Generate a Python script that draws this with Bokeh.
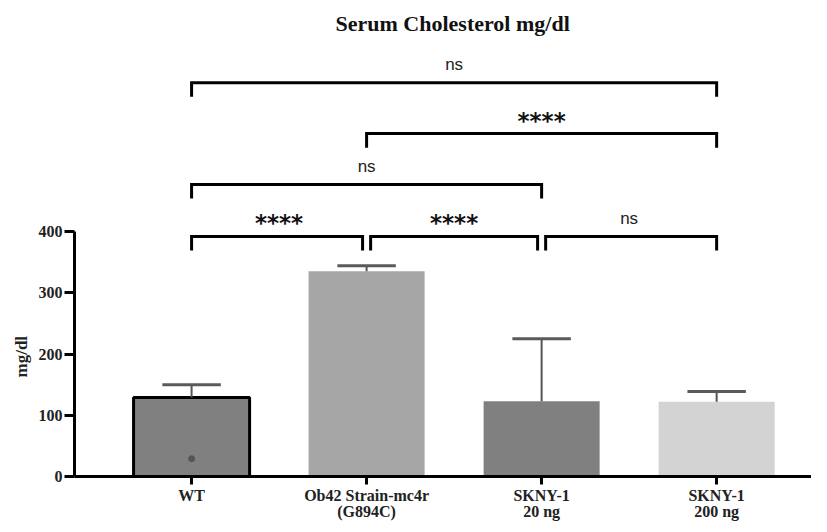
from bokeh.plotting import figure
from bokeh.models import FixedTicker, Range1d, ColumnDataSource, Title
from bokeh.core.properties import value
from bokeh.embed import file_html
from bokeh.resources import INLINE

# ---- data ----
groups = ["WT", "Ob42 Strain-mc4r\n(G894C)", "SKNY-1\n20 ng", "SKNY-1\n200 ng"]
mean_values = [129, 335, 123, 122]
upper_sd = [150, 344, 225, 139]
bar_colors = ["#808080", "#a6a6a6", "#808080", "#d3d3d3"]
wt_points = [29]
y_ticks = [0, 100, 200, 300, 400]

bracket_from = [0, 1, 0, 0, 1, 2]
bracket_to = [3, 3, 2, 1, 2, 3]
bracket_y = [643, 560, 477, 392, 392, 392]
bracket_labels = ["ns", "****", "ns", "****", "****", "ns"]

# ---- styling constants ----
SERIF = "Liberation Serif"
BAR_W = 0.663
CAP_HALF = 0.167
TICK_DROP = 23
GAP = 0.023

xs = list(range(len(groups)))

p = figure(width=811, height=524, output_backend="svg", toolbar_location=None,
           x_range=Range1d(-0.669, 3.542), y_range=Range1d(0, 712),
           min_border_left=74, min_border_right=0, min_border_bottom=48,
           min_border_top=40, title="Serum Cholesterol mg/dl")
p.title.align = "left"
p.title.offset = 261
p.title.text_font = SERIF
p.title.text_font_size = "22px"
p.title.text_font_style = "bold"
p.title.text_color = "#111111"
p.outline_line_color = None
p.xgrid.visible = False
p.ygrid.visible = False
p.background_fill_color = "white"
p.border_fill_color = "white"

# bars
src = ColumnDataSource(dict(x=xs, top=mean_values, color=bar_colors,
                            lc=["black", None, None, None]))
p.vbar(x="x", top="top", bottom=0, width=BAR_W, fill_color="color",
       line_color="lc", line_width=3, source=src)

# error bars (upper only)
p.segment(x0=xs, y0=mean_values, x1=xs, y1=upper_sd, line_color="#555555", line_width=2)
p.segment(x0=[x - CAP_HALF for x in xs], y0=upper_sd,
          x1=[x + CAP_HALF for x in xs], y1=upper_sd,
          line_color="#5a5a5a", line_width=3)

# individual point for WT
p.scatter(x=[0] * len(wt_points), y=wt_points, size=6, color="#555555")

# significance brackets
bx, by, lx, ly, lt = [], [], [], [], []
for i, (a, b, y, lab) in enumerate(zip(bracket_from, bracket_to, bracket_y, bracket_labels)):
    left, right = float(a), float(b)
    for j, (a2, b2, y2) in enumerate(zip(bracket_from, bracket_to, bracket_y)):
        if j != i and y2 == y:
            if b2 == a:
                left += GAP
            if a2 == b:
                right -= GAP
    bx.append([left, left, right, right])
    by.append([y - TICK_DROP, y, y, y - TICK_DROP])
    lx.append((a + b) / 2)
    ly.append(y)
    lt.append(lab)

p.multi_line(xs=bx, ys=by, line_color="black", line_width=3, line_join="miter")

ns_idx = [i for i, t in enumerate(lt) if t == "ns"]
st_idx = [i for i, t in enumerate(lt) if t != "ns"]
p.text(x=[lx[i] for i in ns_idx], y=[ly[i] for i in ns_idx], text=[lt[i] for i in ns_idx],
       text_align="center", text_baseline="alphabetic", y_offset=-18,
       text_font=value("Liberation Sans"), text_font_size="17px", text_color="#222222")
p.text(x=[lx[i] for i in st_idx], y=[ly[i] for i in st_idx], text=[lt[i] for i in st_idx],
       text_align="center", text_baseline="alphabetic", y_offset=-13,
       text_font=value("DejaVu Sans"), text_font_size="23px", text_font_style="bold",
       text_color="#111111")

# axes
yax = p.yaxis[0]
yax.ticker = FixedTicker(ticks=y_ticks)
yax.bounds = (0, 400)
yax.axis_line_width = 3
yax.major_tick_line_width = 3
yax.major_tick_out = 10
yax.major_tick_in = 0
yax.minor_tick_line_color = None
yax.major_label_text_font = SERIF
yax.major_label_text_font_style = "bold"
yax.major_label_text_font_size = "16px"
yax.major_label_text_color = "#222222"
yax.major_label_standoff = 2

# y axis title: placed beside the axis, centred on the axis bounds like the reference
ylab = Title(text="mg/dl", align="left", offset=99, standoff=10,
             text_font=SERIF, text_font_style="bold", text_font_size="17px",
             text_color="#222222")
p.add_layout(ylab, "left")

xax = p.xaxis[0]
xax.ticker = FixedTicker(ticks=xs)
xax.major_label_overrides = {i: g for i, g in enumerate(groups)}
xax.axis_line_width = 3
xax.major_tick_line_width = 3
xax.major_tick_out = 8
xax.major_tick_in = 0
xax.minor_tick_line_color = None
xax.major_label_text_font = SERIF
xax.major_label_text_font_style = "bold"
xax.major_label_text_font_size = "16px"
xax.major_label_text_color = "#222222"
xax.major_label_text_line_height = 0.95
xax.major_label_standoff = 2

open("out.html", "w").write(file_html(p, INLINE))
